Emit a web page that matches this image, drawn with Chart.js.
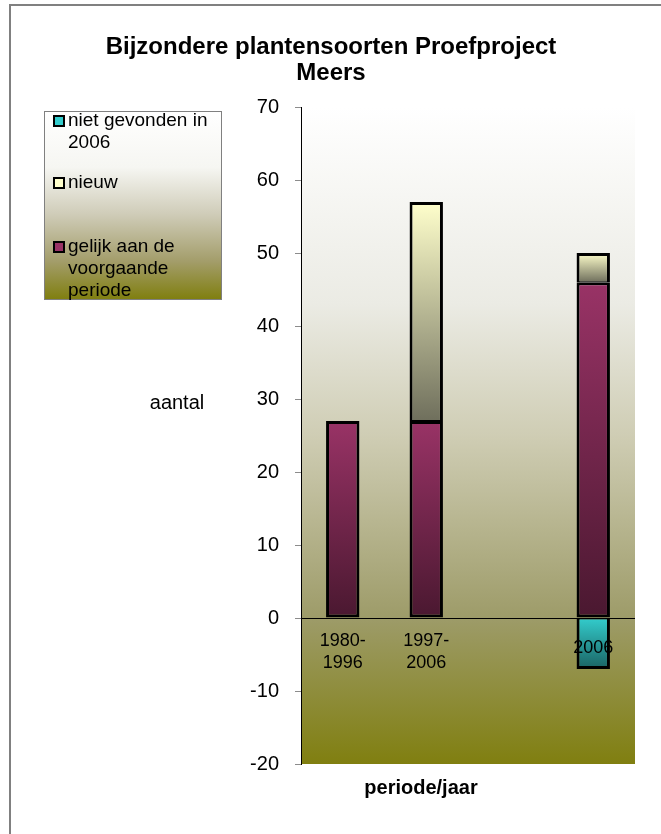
<!DOCTYPE html>
<html>
<head>
<meta charset="utf-8">
<script src="https://cdn.jsdelivr.net/npm/chart.js@4.4.1/dist/chart.umd.min.js"></script>
<style>
html,body{margin:0;padding:0;background:#fff;}
canvas{display:block;}
</style>
</head>
<body>
<canvas id="c" width="661" height="834"></canvas>
<script>
const titleLines = ['Bijzondere plantensoorten Proefproject', 'Meers'];
const categories = [['1980-', '1996'], ['1997-', '2006'], '', '2006'];
const gelijk = [27, 27, null, 46];
const nieuw = [null, 30, null, 4];
const nietGevonden = [null, null, null, -7];
const yTitle = 'aantal';
const xTitle = 'periode/jaar';
const legendItems = [
  {lines: ['niet gevonden in', '2006'], color: '#33cccc'},
  {lines: ['nieuw'], color: '#ffffcc'},
  {lines: ['gelijk aan de', 'voorgaande', 'periode'], color: '#993366'}
];

const FONT = '"Liberation Sans", Arial, sans-serif';

function segValues(dsIndex, i) {
  if (dsIndex === 0) return [0, gelijk[i] || 0];
  if (dsIndex === 1) { const b = gelijk[i] || 0; return [b, b + (nieuw[i] || 0)]; }
  return [nietGevonden[i] || 0, 0];
}
function gradFill(top, bot, dsIndex) {
  return (c) => {
    const chart = c.chart;
    const ys = chart.scales && chart.scales.y;
    if (!ys || c.type !== 'data') return top;
    const [lo, hi] = segValues(dsIndex, c.dataIndex);
    const y1 = ys.getPixelForValue(hi), y2 = ys.getPixelForValue(lo);
    if (!isFinite(y1) || !isFinite(y2) || y1 === y2) return top;
    const g = chart.ctx.createLinearGradient(0, y1, 0, y2);
    g.addColorStop(0, top);
    g.addColorStop(1, bot);
    return g;
  };
}

const decor = {
  id: 'decor',
  beforeDraw(chart) {
    const ctx = chart.ctx;
    const a = chart.chartArea;
    ctx.save();
    ctx.fillStyle = '#ffffff';
    ctx.fillRect(0, 0, chart.width, chart.height);
    ctx.strokeStyle = '#808080';
    ctx.lineWidth = 2;
    ctx.beginPath();
    ctx.moveTo(10, chart.height);
    ctx.lineTo(10, 5);
    ctx.lineTo(chart.width, 5);
    ctx.stroke();
    const g = ctx.createLinearGradient(0, a.top, 0, a.bottom);
    g.addColorStop(0, '#ffffff');
    g.addColorStop(0.3, '#ebebe4');
    g.addColorStop(0.5, '#cfcdb4');
    g.addColorStop(0.78, '#9d9b68');
    g.addColorStop(1, '#807f10');
    ctx.fillStyle = g;
    ctx.fillRect(a.left, a.top, a.right - a.left, a.bottom - a.top);
    ctx.restore();
  },
  afterDraw(chart) {
    const ctx = chart.ctx;
    const xs = chart.scales.x, ys = chart.scales.y;
    ctx.save();
    ctx.fillStyle = '#000';
    ctx.font = 'bold 24px ' + FONT;
    ctx.textAlign = 'center';
    ctx.textBaseline = 'middle';
    ctx.fillText(titleLines[0], 331, 47);
    ctx.fillText(titleLines[1], 331, 73);
    ctx.font = '20px ' + FONT;
    ctx.fillText(yTitle, 177, 403);
    ctx.font = 'bold 20px ' + FONT;
    ctx.fillText(xTitle, 421, 788);
    ctx.font = '18px ' + FONT;
    const zeroY = ys.getPixelForValue(0);
    categories.forEach((lab, i) => {
      const lines = Array.isArray(lab) ? lab : (lab ? [lab] : []);
      if (!lines.length) return;
      const x = xs.getPixelForValue(i);
      const lh = 22;
      const center = zeroY + (lines.length === 1 ? 30 : 34);
      const start = center - (lines.length - 1) * lh / 2;
      lines.forEach((t, k) => ctx.fillText(t, x, start + k * lh));
    });
    const L = {x: 44, y: 111, w: 177, h: 188};
    const lg = ctx.createLinearGradient(0, L.y, 0, L.y + L.h);
    lg.addColorStop(0, '#ffffff');
    lg.addColorStop(0.3, '#f6f6f2');
    lg.addColorStop(0.55, '#cfccb8');
    lg.addColorStop(0.8, '#a39d6a');
    lg.addColorStop(1, '#807f10');
    ctx.fillStyle = lg;
    ctx.fillRect(L.x, L.y, L.w, L.h);
    ctx.strokeStyle = '#808080';
    ctx.lineWidth = 1;
    ctx.strokeRect(L.x + 0.5, L.y + 0.5, L.w, L.h);
    ctx.font = '19px ' + FONT;
    ctx.textAlign = 'left';
    const itemY = [121, 183, 247];
    legendItems.forEach((it, k) => {
      const y0 = itemY[k];
      ctx.fillStyle = it.color;
      ctx.fillRect(54, y0 - 5, 10, 10);
      ctx.strokeStyle = '#000';
      ctx.lineWidth = 2;
      ctx.strokeRect(54, y0 - 5, 10, 10);
      ctx.fillStyle = '#000';
      it.lines.forEach((t, j) => ctx.fillText(t, 68, y0 + j * 22));
    });
    ctx.restore();
  }
};

new Chart(document.getElementById('c'), {
  type: 'bar',
  data: {
    labels: categories,
    datasets: [
      {label: 'gelijk aan de voorgaande periode', data: gelijk, backgroundColor: gradFill('#993366', '#4a1830', 0)},
      {label: 'nieuw', data: nieuw, backgroundColor: gradFill('#ffffcc', '#6f6f5c', 1),
       borderWidth: {top: 3, left: 3, right: 3, bottom: 1}},
      {label: 'niet gevonden in 2006', data: nietGevonden, backgroundColor: gradFill('#33cccc', '#1a6363', 2),
       borderWidth: {top: 1, left: 3, right: 3, bottom: 3}}
    ]
  },
  plugins: [decor],
  options: {
    responsive: false,
    animation: false,
    devicePixelRatio: 1,
    layout: {padding: {left: 241, right: 26, top: 107, bottom: 70}},
    datasets: {bar: {borderColor: '#000', borderWidth: 3, borderSkipped: false, categoryPercentage: 1, barPercentage: 0.4}},
    plugins: {legend: {display: false}, title: {display: false}, tooltip: {enabled: false}},
    scales: {
      x: {display: false, stacked: true},
      y: {
        stacked: true,
        min: -20, max: 70,
        afterFit: (s) => { s.width = 60; },
        ticks: {stepSize: 10, padding: 16, color: '#000', font: {family: FONT, size: 20}},
        grid: {
          color: (c) => (c.tick && c.tick.value === 0) ? '#000' : 'rgba(0,0,0,0)',
          tickColor: '#8c8c8c', tickLength: 6, lineWidth: 1
        },
        border: {display: true, color: '#000', width: 1}
      }
    }
  }
});
</script>
</body>
</html>
